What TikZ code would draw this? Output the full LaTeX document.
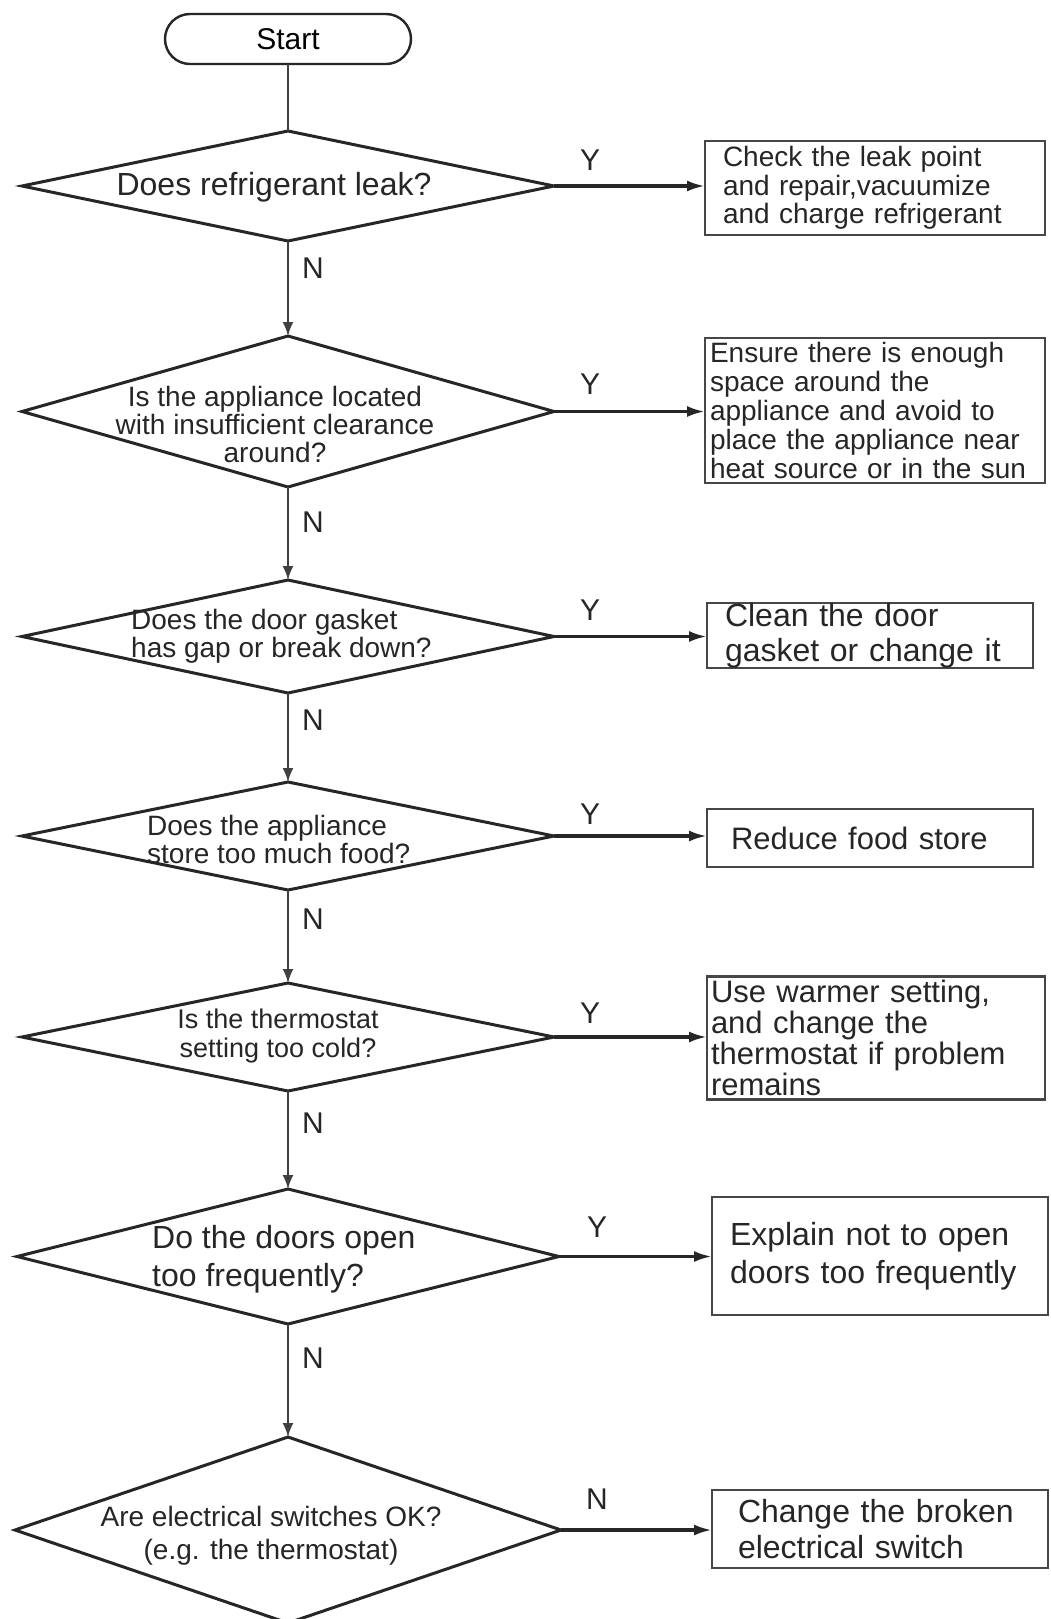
\documentclass[tikz,border=0pt]{standalone}
\usepackage{fontspec}
\setmainfont{Liberation Sans}
\usetikzlibrary{shapes.geometric,shapes.misc,arrows.meta}
\begin{document}
\begin{tikzpicture}[x=1pt,y=-1pt,
  ink/.style={draw=black!85, line width=3pt},
  decision/.style={diamond, ink, inner sep=0pt, outer sep=0pt},
  action/.style={rectangle, draw=black!72, line width=2.6pt, inner ysep=0pt, outer sep=0pt, align=left, text=black!85},
  terminal/.style={rounded rectangle, ink, line width=2.4pt, minimum width=246pt, minimum height=50pt, inner sep=0pt, outer sep=0pt},
  qtext/.style={inner sep=0pt, text=black!85},
  flow/.style={draw=black!75, line width=2pt, -{Latex[length=14pt,width=11pt]}},
  plain/.style={draw=black!75, line width=2pt},
  branch/.style={draw=black!85, line width=3.2pt, -{Latex[length=18pt,width=11pt]}},
  yn/.style={inner sep=0pt, font=\fontsize{30}{30}\selectfont, text=black!85},
]
\clip (0,0) rectangle (1050,1619);
\fill[white] (0,0) rectangle (1050,1619);

% start terminal
\node[terminal, font=\fontsize{30}{30}\selectfont] (start) at (288,39) {Start};

% decisions (shapes)
\node[decision, minimum width=532pt, minimum height=110pt] (d1) at (288,186) {};
\node[decision, minimum width=532pt, minimum height=151pt] (d2) at (288,411.5) {};
\node[decision, minimum width=532pt, minimum height=113pt] (d3) at (288,636.5) {};
\node[decision, minimum width=532pt, minimum height=108pt] (d4) at (288,836) {};
\node[decision, minimum width=532pt, minimum height=108pt] (d5) at (288,1037) {};
\node[decision, minimum width=542pt, minimum height=135pt] (d6) at (288,1256.5) {};
\node[decision, minimum width=546pt, minimum height=186pt] (d7) at (288,1530) {};

% decision questions
\node[qtext, font=\fontsize{32}{32}\selectfont] (q1) at (274,187) {Does refrigerant leak?};
\node[qtext, align=center, font=\fontsize{28}{28}\selectfont] (q2) at (275,424)
  {Is the appliance located\\with insufficient clearance\\around?};
\node[qtext, anchor=west, align=left, font=\fontsize{28}{28}\selectfont] (q3) at (131,636)
  {Does the door gasket\\has gap or break down?};
\node[qtext, anchor=west, align=left, font=\fontsize{28}{28}\selectfont] (q4) at (147,839)
  {Does the appliance\\store too much food?};
\node[qtext, align=center, font=\fontsize{27}{29}\selectfont] (q5) at (278,1036)
  {Is the thermostat\\setting too cold?};
\node[qtext, anchor=west, align=left, font=\fontsize{32}{38}\selectfont] (q6) at (152,1259)
  {Do the doors open\\too frequently?};
\node[qtext, align=center, font=\fontsize{28}{33}\selectfont] (q7) at (271,1536)
  {Are electrical switches OK?\\(e.g. the thermostat)};

% actions
\node[action, minimum width=340pt, minimum height=94pt, inner xsep=18pt, text width=304pt,
  font=\fontsize{28}{28.5}\selectfont] (b1) at (875,188)
  {Check the leak point\\and repair,vacuumize\\and charge refrigerant};
\node[action, minimum width=340pt, minimum height=145pt, inner xsep=5pt, text width=330pt,
  font=\fontsize{28}{29}\selectfont] (b2) at (875,410.5)
  {Ensure there is enough\\space around the\\appliance and avoid to\\place the appliance near\\heat source or in the sun};
\node[action, minimum width=326pt, minimum height=63pt, inner xsep=18pt, text width=290pt,
  font=\fontsize{32}{35}\selectfont] (b3) at (870,635.5)
  {Clean the door\\gasket or change it};
\node[action, minimum width=326pt, minimum height=58pt, inner xsep=24pt, text width=278pt,
  font=\fontsize{31}{35}\selectfont] (b4) at (870,838)
  {Reduce food store};
\node[action, minimum width=338pt, minimum height=123pt, inner xsep=4pt, text width=330pt,
  font=\fontsize{31}{31}\selectfont] (b5) at (876,1038)
  {Use warmer setting,\\and change the\\thermostat if problem\\remains};
\node[action, minimum width=336pt, minimum height=118pt, inner xsep=18pt, text width=300pt,
  font=\fontsize{32}{38}\selectfont] (b6) at (880,1256)
  {Explain not to open\\doors too frequently};
\node[action, minimum width=336pt, minimum height=78pt, inner xsep=26pt, text width=284pt,
  font=\fontsize{32}{36}\selectfont] (b7) at (880,1529)
  {Change the broken\\electrical switch};

% main line
\draw[plain] (start.south) -- (d1.north);
\draw[flow] (d1.south) -- (d2.north);
\draw[flow] (d2.south) -- (d3.north);
\draw[flow] (d3.south) -- (d4.north);
\draw[flow] (d4.south) -- (d5.north);
\draw[flow] (d5.south) -- (d6.north);
\draw[flow] (d6.south) -- (d7.north);

% branches to the actions
\draw[branch] (d1.east) -- (d1.east -| b1.west);
\draw[branch] (d2.east) -- (d2.east -| b2.west);
\draw[branch] (d3.east) -- (d3.east -| b3.west);
\draw[branch] (d4.east) -- (d4.east -| b4.west);
\draw[branch] (d5.east) -- (d5.east -| b5.west);
\draw[branch] (d6.east) -- (d6.east -| b6.west);
\draw[branch] (d7.east) -- (d7.east -| b7.west);

% branch labels
\node[yn] (y1) at (590,160) {Y};
\node[yn] (y2) at (590,384) {Y};
\node[yn] (y3) at (590,610) {Y};
\node[yn] (y4) at (590,814) {Y};
\node[yn] (y5) at (590,1013) {Y};
\node[yn] (y6) at (597,1227) {Y};
\node[yn] (n7) at (597,1499) {N};
\node[yn] (n1) at (313,268) {N};
\node[yn] (n2) at (313,522) {N};
\node[yn] (n3) at (313,720) {N};
\node[yn] (n4) at (313,919) {N};
\node[yn] (n5) at (313,1123) {N};
\node[yn] (n6) at (313,1358) {N};
\end{tikzpicture}
\end{document}
